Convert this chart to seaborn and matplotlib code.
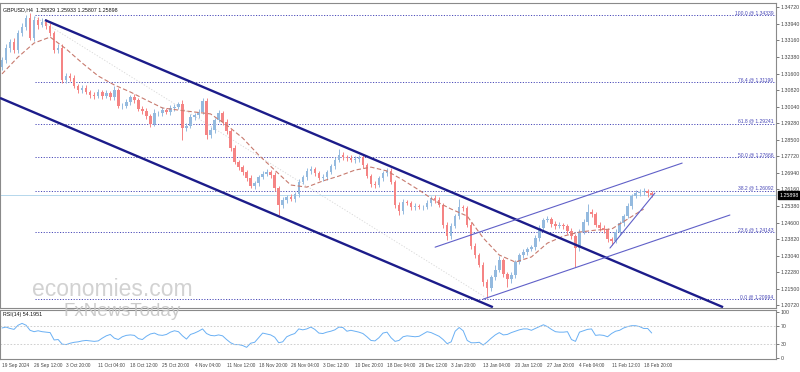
import matplotlib
matplotlib.use("Agg")
import matplotlib.pyplot as plt
import matplotlib.transforms as mtrans
import numpy as np
import pandas as pd
import seaborn as sns

# ---------------- data ----------------
first_open = 1.3190
closes = [
    1.3224, 1.3281, 1.3309, 1.3271, 1.3351, 1.3379, 1.3422, 1.3328, 1.3412, 1.3389,
    1.3403, 1.3384, 1.3351, 1.3271, 1.3281, 1.3130, 1.3149, 1.3140, 1.3102, 1.3083,
    1.3093, 1.3074, 1.3060, 1.3055, 1.3074, 1.3055, 1.3069, 1.3050, 1.3083, 1.3008,
    1.3008, 1.3027, 1.3050, 1.3036, 1.2994, 1.2985, 1.2961, 1.2924, 1.2975, 1.2975,
    1.2989, 1.2980, 1.2999, 1.3003, 1.3018, 1.2905, 1.2914, 1.2956, 1.2966, 1.2980,
    1.3032, 1.2872, 1.2895, 1.2942, 1.2975, 1.2933, 1.2891, 1.2811, 1.2745, 1.2721,
    1.2698, 1.2670, 1.2632, 1.2646, 1.2674, 1.2689, 1.2698, 1.2684, 1.2623, 1.2543,
    1.2566, 1.2580, 1.2571, 1.2595, 1.2651, 1.2674, 1.2703, 1.2712, 1.2693, 1.2670,
    1.2674, 1.2698, 1.2726, 1.2754, 1.2778, 1.2768, 1.2764, 1.2754, 1.2759, 1.2768,
    1.2731, 1.2679, 1.2642, 1.2637, 1.2670, 1.2693, 1.2703, 1.2651, 1.2543, 1.2515,
    1.2557, 1.2552, 1.2533, 1.2538, 1.2533, 1.2533, 1.2552, 1.2576, 1.2566, 1.2543,
    1.2449, 1.2397, 1.2444, 1.2491, 1.2533, 1.2529, 1.2449, 1.2350, 1.2308, 1.2261,
    1.2181, 1.2153, 1.2204, 1.2237, 1.2284, 1.2219, 1.2195, 1.2214, 1.2275, 1.2308,
    1.2322, 1.2336, 1.2345, 1.2388, 1.2435, 1.2472, 1.2477, 1.2454, 1.2444, 1.2449,
    1.2444, 1.2421, 1.2397, 1.2341, 1.2416, 1.2463, 1.2510, 1.2501, 1.2449, 1.2435,
    1.2425, 1.2383, 1.2374, 1.2416, 1.2458, 1.2491, 1.2538, 1.2585, 1.2599, 1.2604,
    1.2609, 1.2599, 1.25898,
]
upper_wick_pips = [
    15, 20, 12, 18, 15, 20, 12, 25, 18, 15, 20, 14, 16, 10, 18,
    20, 15, 12, 14, 10, 12, 14, 10, 12, 15, 10, 14, 12, 20, 10,
    12, 15, 10, 14, 10, 12, 15, 10, 18, 12, 14, 10, 12, 14, 10,
    20, 12, 14, 10, 12, 14, 12, 15, 10, 14, 12, 15, 10, 12, 10,
    12, 10, 14, 12, 10, 15, 14, 10, 12, 10, 15, 12, 14, 10, 12,
    10, 14, 12, 10, 12, 14, 10, 12, 14, 28, 12, 10, 14, 12, 10,
    14, 10, 12, 14, 10, 12, 15, 12, 10, 14, 12, 10, 12, 14, 10,
    12, 14, 10, 12, 15, 10, 12, 14, 10, 38, 12, 10, 12, 14, 10,
    12, 14, 10, 24, 20, 12, 10, 14, 12, 10, 14, 12, 10, 12, 14,
    12, 14, 10, 12, 14, 10, 12, 14, 10, 12, 14, 40, 12, 10, 14,
    12, 10, 12, 14, 10, 12, 14, 12, 15, 12, 14, 10, 8,
]
lower_wick_pips = [
    14, 12, 18, 15, 12, 14, 16, 12, 14, 18, 12, 14, 15, 12, 14,
    15, 12, 14, 10, 12, 14, 10, 12, 14, 10, 12, 10, 14, 12, 10,
    12, 10, 14, 12, 10, 14, 12, 16, 10, 14, 12, 10, 12, 14, 10,
    56, 12, 10, 14, 12, 10, 20, 12, 14, 10, 12, 14, 12, 10, 14,
    12, 14, 10, 12, 14, 10, 12, 14, 12, 47, 14, 12, 10, 14, 12,
    10, 14, 12, 14, 10, 12, 14, 10, 12, 10, 14, 12, 10, 12, 14,
    12, 10, 14, 12, 10, 14, 12, 10, 14, 20, 12, 10, 14, 12, 10,
    12, 10, 14, 12, 10, 14, 20, 12, 10, 14, 12, 10, 14, 12, 10,
    20, 47, 14, 12, 10, 12, 38, 20, 12, 10, 14, 12, 10, 12, 14,
    12, 10, 14, 12, 10, 14, 12, 14, 89, 12, 10, 14, 12, 10, 14,
    12, 14, 20, 10, 12, 14, 10, 12, 10, 14, 12, 16, 10,
]
ma_bars = list(range(0, 161, 4))
ma_values = [
    1.3159, 1.3238, 1.3304, 1.3332, 1.3276, 1.3210, 1.3149, 1.3107, 1.3074, 1.3036,
    1.2999, 1.2989, 1.2980, 1.2971, 1.2919, 1.2858, 1.2778, 1.2707, 1.2637, 1.2627,
    1.2656, 1.2679, 1.2707, 1.2721, 1.2703, 1.2660, 1.2613, 1.2562, 1.2524, 1.2491,
    1.2388, 1.2308, 1.2275, 1.2299, 1.2364, 1.2397, 1.2416, 1.2425, 1.2430, 1.2477,
    1.2524,
]
rsi_values = [
    65, 67, 64, 62, 71, 75, 71, 60, 57, 59, 57, 56, 55, 39, 40, 30, 29, 32, 34, 35,
    37, 38, 37, 36, 37, 43, 48, 51, 43, 40, 46, 49, 50, 49, 42, 40, 47, 52, 54, 50,
    49, 51, 56, 59, 57, 48, 41, 51, 54, 58, 63, 53, 49, 48, 50, 48, 40, 33, 29, 29,
    27, 23, 32, 34, 44, 54, 52, 50, 45, 33, 35, 46, 50, 53, 63, 61, 63, 67, 62, 54,
    53, 56, 58, 61, 67, 66, 58, 60, 58, 56, 53, 46, 38, 37, 44, 54, 56, 44, 36, 38,
    46, 48, 47, 46, 47, 52, 57, 55, 51, 47, 40, 31, 35, 58, 66, 59, 38, 33, 33, 34,
    28, 35, 43, 50, 55, 50, 51, 55, 58, 61, 63, 63, 60, 64, 68, 72, 68, 62, 57, 56,
    56, 57, 40, 36, 56, 59, 62, 63, 49, 50, 49, 46, 53, 58, 60, 65, 68, 70, 70, 68,
    64, 64, 54.1951,
]
date_labels = [
    "19 Sep 2024", "26 Sep 12:00", "3 Oct 20:00", "11 Oct 04:00", "18 Oct 12:00",
    "25 Oct 20:00", "4 Nov 04:00", "11 Nov 12:00", "18 Nov 20:00", "26 Nov 04:00",
    "3 Dec 12:00", "10 Dec 20:00", "18 Dec 04:00", "26 Dec 12:00", "3 Jan 20:00",
    "13 Jan 04:00", "20 Jan 12:00", "27 Jan 20:00", "4 Feb 04:00", "11 Feb 12:00",
    "18 Feb 20:00",
]
date_tick_bars = list(range(0, 161, 8))
price_tick_labels = [
    "1.34720", "1.33940", "1.33160", "1.32380", "1.31600", "1.30820", "1.30040",
    "1.29280", "1.28500", "1.27720", "1.26940", "1.26160", "1.25380", "1.24600",
    "1.23820", "1.23040", "1.22280", "1.21500", "1.20720",
]
fib_levels = ["100.0", "76.4", "61.8", "50.0", "38.2", "23.6", "0.0"]
fib_prices = [1.34339, 1.31190, 1.29241, 1.27666, 1.26092, 1.24143, 1.20994]
fib_anchor_bar = 8.2
fib_diag = ([8.2, 120.4], [1.3427, 1.2111])
channel_upper = ([10.7, 179.8], [1.3412, 1.2063])
channel_lower = ([-0.5, 122.4], [1.3046, 1.2063])
rising_upper = ([108.0, 169.6], [1.2345, 1.2740])
rising_lower = ([120.0, 181.5], [1.2101, 1.2496])
short_trend = ([151.6, 162.8], [1.2341, 1.2599])
last_price = 1.25898
header = "GBPUSD,H4  1.25829 1.25933 1.25807 1.25898"

# ---------------- build frame ----------------
n = len(closes)
opens = [first_open] + closes[:-1]
df = pd.DataFrame({"bar": np.arange(n), "open": opens, "close": closes,
                   "uw": upper_wick_pips, "lw": lower_wick_pips})
df["top"] = df[["open", "close"]].max(axis=1)
df["bot"] = df[["open", "close"]].min(axis=1)
df["high"] = df["top"] + df["uw"] / 10000
df["low"] = df["bot"] - df["lw"] / 10000
bull = "#94badf"
bear = "#f58484"
df["color"] = np.where(df["close"] >= df["open"], bull, bear)

sns.set_style("white")
plt.rcParams["font.family"] = ["Liberation Sans", "DejaVu Sans"]

fig = plt.figure(figsize=(8.0, 3.72), dpi=100)
ax = fig.add_axes([0.0, 0.172, 0.97, 0.820])
ax_r = fig.add_axes([0.0, 0.035, 0.97, 0.132])

XMIN, XMAX = -0.5, 193.0
YMIN, YMAX = 1.20591, 1.34922
ax.set_xlim(XMIN, XMAX)
ax.set_ylim(YMIN, YMAX)

fs = 3.8
# fib lines & labels
fib_col = "#4a4ab8"
for lvl, p in zip(fib_levels, fib_prices):
    ax.hlines(p, fib_anchor_bar, XMAX, colors=fib_col, linestyles=(0, (1.2, 1.6)), lw=0.7, zorder=1)
    ax.text(192.3, p + 0.00025, f"{lvl} @ {p:.5f}", ha="right", va="bottom",
            fontsize=3.6, color=fib_col, zorder=5)
ax.plot(*fib_diag, color="#d6d6d6", lw=0.6, ls=(0, (1.5, 2)), zorder=1)

# current price line
ax.axhline(last_price, color="#b5d7ec", lw=0.7, zorder=1)

# candles
heights = (df["top"] - df["bot"]).clip(lower=0.00012)
ax.vlines(df["bar"], df["low"], df["high"], colors=df["color"], lw=0.7, zorder=3)
ax.bar(df["bar"], heights, bottom=df["bot"], width=0.62, color=df["color"],
       linewidth=0, zorder=3)

# moving average
sns.lineplot(x=ma_bars, y=ma_values, ax=ax, color="#c77a6e", lw=0.8,
             linestyle=(0, (4, 2.2)), zorder=4)

# trend lines
ax.plot(*channel_upper, color="#1c1c8a", lw=1.7, zorder=4, solid_capstyle="butt")
ax.plot(*channel_lower, color="#1c1c8a", lw=1.7, zorder=4, solid_capstyle="butt")
for tl in (rising_upper, rising_lower, short_trend):
    ax.plot(*tl, color="#6060c8", lw=0.8, zorder=4)

# axes styling
price_tick_vals = [float(s) for s in price_tick_labels]
ax.yaxis.tick_right()
ax.set_yticks(price_tick_vals)
ax.set_yticklabels(price_tick_labels, fontsize=fs, color="#222222")
ax.tick_params(axis="y", length=2, width=0.5, pad=1.2, colors="#444444")
ax.set_xticks([])
ax.set_xlabel("")
ax.set_ylabel("")
for sp in ax.spines.values():
    sp.set_color("#8a8a8a")
    sp.set_linewidth(0.8)

ax.text(0.004, 0.985, header, transform=ax.transAxes, ha="left", va="top",
        fontsize=fs, color="#111111", zorder=6)

# last price box
trans = mtrans.blended_transform_factory(ax.transAxes, ax.transData)
ax.text(1.004, last_price, f"{last_price:.5f}", transform=trans, ha="left", va="center",
        fontsize=fs, color="white", zorder=7, clip_on=False,
        bbox=dict(boxstyle="square,pad=0.2", facecolor="black", edgecolor="black"))

# RSI panel
sns.lineplot(x=np.arange(n), y=rsi_values, ax=ax_r, color="#6ab0f4", lw=0.7)
ax_r.set_xlim(XMIN, XMAX)
ax_r.set_ylim(-2.2, 104.3)
for lvl in (70, 30):
    ax_r.axhline(lvl, color="#c8c8c8", lw=0.6, ls=(0, (2, 2)))
ax_r.yaxis.tick_right()
ax_r.set_yticks([100, 70, 30, 0])
ax_r.set_yticklabels(["100", "70", "30", "0"], fontsize=fs, color="#222222")
ax_r.tick_params(axis="y", length=2, width=0.5, pad=1.2, colors="#444444")
ax_r.set_xticks(date_tick_bars)
ax_r.set_xticklabels(date_labels, fontsize=3.45, color="#222222", ha="left")
ax_r.tick_params(axis="x", length=2, width=0.5, pad=1.2, colors="#444444")
ax_r.set_xlabel("")
ax_r.set_ylabel("")
for sp in ax_r.spines.values():
    sp.set_color("#8a8a8a")
    sp.set_linewidth(0.8)
ax_r.text(0.004, 0.96, f"RSI(14) {rsi_values[-1]:.4f}", transform=ax_r.transAxes,
          ha="left", va="top", fontsize=fs, color="#111111")

# watermark
fig.text(0.14, 1 - 289 / 372, "economies.com", ha="center", va="center",
         fontsize=16.5, color="#cdcdcd", alpha=0.9, zorder=0.5)
fig.text(0.153, 1 - 311 / 372, "FxNewsToday", ha="center", va="center",
         fontsize=13.5, color="#c6c6c6", alpha=0.9, zorder=0.5)

fig.savefig("out.png", dpi=100)
